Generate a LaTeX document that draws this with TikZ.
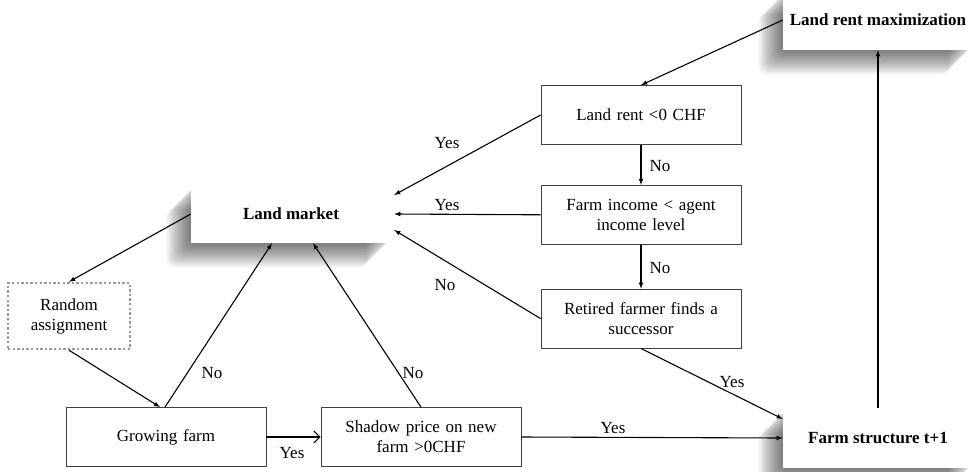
\documentclass[tikz,border=0pt]{standalone}
\usepackage{fontspec}
\setmainfont{Liberation Serif}
\usepackage{tikz}
\usetikzlibrary{shapes.geometric, arrows, arrows.meta, positioning, backgrounds}
\tikzstyle{process} = [rectangle, draw=black!75, line width=0.8pt, text width=190pt, inner sep=5pt, align=center, minimum height=59pt, fill=white, font=\fontsize{17}{20}\selectfont]
\tikzstyle{hub} = [rectangle, fill=white, align=center, font=\bfseries\fontsize{17}{20}\selectfont]
\tikzstyle{random} = [rectangle, draw=black!40, dash pattern=on 2.4pt off 2.2pt, line width=2.4pt, align=center, minimum width=122pt, minimum height=66pt, font=\fontsize{17}{20}\selectfont]
\tikzstyle{answer} = [inner sep=0pt, font=\fontsize{17}{20}\selectfont]
\tikzstyle{arrow} = [-latex, line width=1.1pt]
\tikzstyle{haze} = [fill=black, opacity=0.055]

\begin{document}
\begin{tikzpicture}[x=1pt, y=-1pt]

\useasboundingbox (0,0) rectangle (973,471);

% Shadowed hubs
\node[hub, minimum width=190pt, minimum height=60pt] (maximize) at (878,20) {Land rent maximization};
\node[hub, minimum width=190pt, minimum height=60pt] (structure) at (878,438) {Farm structure t+1};
\node[hub, minimum width=200pt, minimum height=58pt] (market) at (291,214) {Land market};

% Soft shadows behind the hubs
\begin{scope}[on background layer]
\foreach \r in {2,4,...,24} {
  \fill[haze, rounded corners=8pt] ([shift={(-\r,\r)}]maximize.south west) rectangle ([shift={(-\r,\r)}]maximize.north east);
  \fill[haze, rounded corners=8pt] ([shift={(-\r,\r)}]structure.south west) rectangle ([shift={(-\r,\r)}]structure.north east);
  \fill[haze, rounded corners=8pt] ([shift={(-\r,\r)}]market.south west) rectangle ([shift={(-\r,\r)}]market.north east);
}
\end{scope}

% Decision column
\node[process] (rent) at (641,115) {Land rent <0 CHF};
\node[process, below=40pt of rent] (income) {Farm income < agent\\income level};
\node[process, below=44pt of income] (retired) {Retired farmer finds a\\successor};

% Growing farms
\node[random] (random) at (69,316) {Random\\assignment};
\node[process] (growing) at (166,437) {Growing farm};
\node[process] (shadow) at (421,437) {Shadow price on new\\farm >0CHF};

% Column arrows
\draw[arrow] (maximize.west) -- (rent.north);
\draw[arrow] (rent.south) -- (income.north);
\draw[arrow] (income.south) -- (retired.north);
\draw[arrow] (rent.west) -- ([xshift=3pt, yshift=19pt]market.east);
\draw[arrow] (income.west) -- ([xshift=3pt]market.east);
\draw[arrow] (retired.west) -- ([xshift=3pt, yshift=-16pt]market.east);
\draw[arrow] (retired.south) -- ([yshift=19pt]structure.west);

% Land market loop
\draw[arrow] (market.west) -- (random.north);
\draw[arrow] (random.south) -- ([xshift=-6pt]growing.north);
\draw[arrow] ([xshift=-1pt]growing.north) -- ([xshift=-19pt]market.south);
\draw[arrow] (shadow.north) -- ([xshift=22pt]market.south);
\draw[-{Straight Barb[length=6pt, width=12pt]}, line width=1.1pt] (growing.east) -- (shadow.west);
\draw[arrow] (shadow.east) -- (structure.west);
\draw[arrow] (structure.north) -- (maximize.south);

% Answers
\node[answer] (yes1) at (447,143) {Yes};
\node[answer] (yes2) at (447,205) {Yes};
\node[answer] (no1) at (445,285) {No};
\node[answer] (no2) at (660,166) {No};
\node[answer] (no3) at (660,268) {No};
\node[answer] (yes3) at (732,382) {Yes};
\node[answer] (yes4) at (613,428) {Yes};
\node[answer] (yes5) at (292,453) {Yes};
\node[answer] (no4) at (212,373) {No};
\node[answer] (no5) at (413,373) {No};

\end{tikzpicture}
\end{document}
